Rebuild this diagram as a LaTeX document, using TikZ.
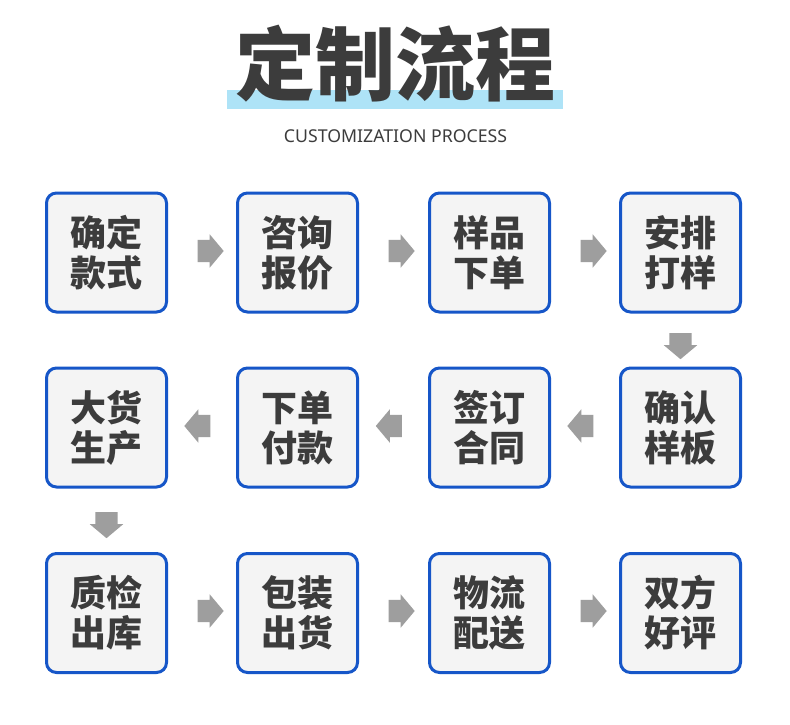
\documentclass[tikz,border=0pt]{standalone}
\usepackage{fontspec}
\newfontfamily\cjk{Noto Sans CJK SC}
\newfontfamily\cjktitle{Noto Sans CJK SC Black}
\newfontfamily\latin{Noto Sans}
\usetikzlibrary{shapes.arrows}
\definecolor{stageblue}{RGB}{22,86,200}
\definecolor{stagefill}{RGB}{244,244,244}
\definecolor{stagetext}{RGB}{60,60,60}
\definecolor{arrowgray}{RGB}{158,158,158}
\definecolor{barblue}{RGB}{174,227,247}
\tikzstyle{stage}=[draw=stageblue, fill=stagefill, line width=3pt, rounded corners=10pt, minimum width=120pt, minimum height=119pt, align=center, text=stagetext, font=\cjk\bfseries\fontsize{36pt}{40pt}\selectfont]
\tikzstyle{flow arrow}=[single arrow, fill=arrowgray, inner sep=0pt, text height=11pt, text depth=11pt, minimum height=26pt, single arrow head extend=5.5pt, single arrow tip angle=100]

\begin{document}
\begin{tikzpicture}[x=1pt, y=-1pt]
      \useasboundingbox[fill=white] (0, 0) rectangle (790, 725);

      % title
      \fill[barblue] (227, 90) rectangle (563, 109);
      \node[inner sep=0pt, text=stagetext, font=\cjktitle\fontsize{80pt}{80pt}\selectfont] (title) at (395.5, 63.5) {定制流程};
      \node[inner sep=0pt, text=stagetext, font=\latin\fontsize{17.7pt}{20pt}\selectfont] (subtitle) at (395.5, 136.5) {CUSTOMIZATION PROCESS};

      % row 1
      \node[stage] (box_1) at (106.5, 252.5) {确定\\款式};
      \node[stage] (box_2) at (297.5, 252.5) {咨询\\报价};
      \node[stage] (box_3) at (489.5, 252.5) {样品\\下单};
      \node[stage] (box_4) at (680.5, 252.5) {安排\\打样};

      % row 2
      \node[stage] (box_5) at (680.5, 427.5) {确认\\样板};
      \node[stage] (box_6) at (489.5, 427.5) {签订\\合同};
      \node[stage] (box_7) at (297.5, 427.5) {下单\\付款};
      \node[stage] (box_8) at (106.5, 427.5) {大货\\生产};

      % row 3
      \node[stage] (box_9) at (106.5, 613) {质检\\出库};
      \node[stage] (box_10) at (297.5, 613) {包装\\出货};
      \node[stage] (box_11) at (489.5, 613) {物流\\配送};
      \node[stage] (box_12) at (680.5, 613) {双方\\好评};

      % arrows
      \node[flow arrow] (arr_1_2) at (206, 251) {};
      \node[flow arrow] (arr_2_3) at (397, 251) {};
      \node[flow arrow] (arr_3_4) at (589, 251) {};
      \node[flow arrow, rotate=-90] (arr_4_5) at (680.5, 341.5) {};
      \node[flow arrow, rotate=180] (arr_5_6) at (585, 426) {};
      \node[flow arrow, rotate=180] (arr_6_7) at (393.5, 426) {};
      \node[flow arrow, rotate=180] (arr_7_8) at (202, 426) {};
      \node[flow arrow, rotate=-90] (arr_8_9) at (106.5, 520.5) {};
      \node[flow arrow] (arr_9_10) at (206, 611) {};
      \node[flow arrow] (arr_10_11) at (397, 611) {};
      \node[flow arrow] (arr_11_12) at (589, 611) {};
    \end{tikzpicture}
\end{document}
